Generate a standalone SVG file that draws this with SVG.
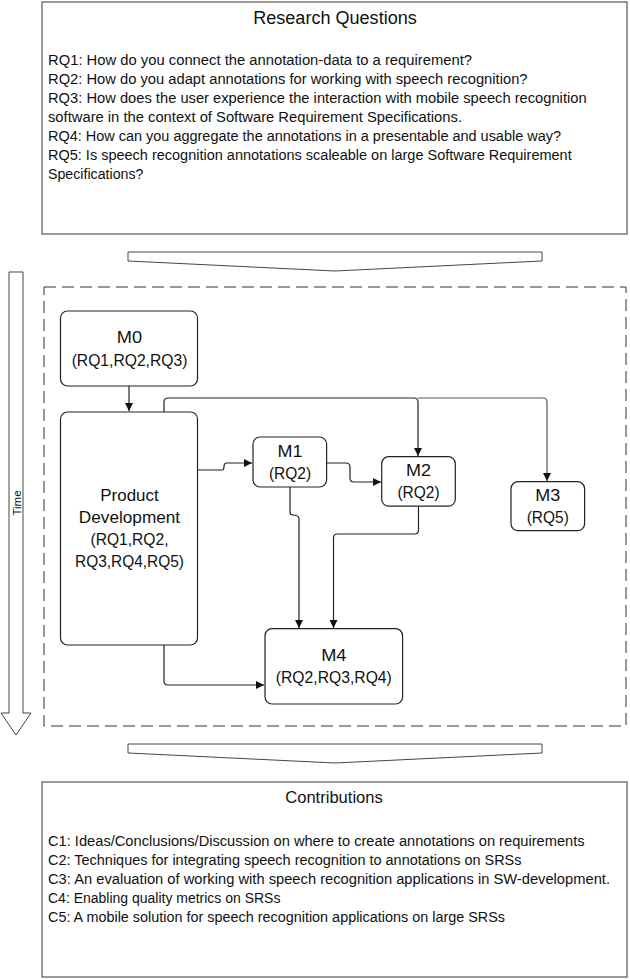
<svg xmlns="http://www.w3.org/2000/svg" width="630" height="979" viewBox="0 0 630 979">
<defs>
<style>
.box{fill:#fff;stroke:#555;stroke-width:1.2}
.node{fill:#fff;stroke:#222;stroke-width:1.2}
.t{font-family:"Liberation Sans",Arial,sans-serif;fill:#111}
.title{font-size:18px;text-anchor:middle}
.body{font-size:14px}
.lbl{font-size:16.5px;text-anchor:middle}
.conn{fill:none;stroke:#222;stroke-width:1.2}
.conn2{fill:none;stroke:#555;stroke-width:1.2}
.shape{fill:#fff;stroke:#444;stroke-width:1}
</style>
<marker id="ah" viewBox="0 0 10 10" refX="10" refY="5" markerWidth="8" markerHeight="8" orient="auto" markerUnits="userSpaceOnUse">
<path d="M0,0 L10,5 L0,10 z" fill="#111"/>
</marker>
</defs>
<rect width="630" height="979" fill="#fff"/>

<g id="research-questions">
<rect class="box" x="42" y="2" width="585" height="232"/>
<text class="t title" x="335" y="24" textLength="163.6" lengthAdjust="spacingAndGlyphs">Research Questions</text>
<text class="t body" x="48" y="65" textLength="424" lengthAdjust="spacingAndGlyphs">RQ1: How do you connect the annotation-data to a requirement?</text>
<text class="t body" x="48" y="84" textLength="479.5" lengthAdjust="spacingAndGlyphs">RQ2: How do you adapt annotations for working with speech recognition?</text>
<text class="t body" x="48" y="103" textLength="538.6" lengthAdjust="spacingAndGlyphs">RQ3: How does the user experience the interaction with mobile speech recognition</text>
<text class="t body" x="48" y="122" textLength="414" lengthAdjust="spacingAndGlyphs">software in the context of Software Requirement Specifications.</text>
<text class="t body" x="48" y="141" textLength="513" lengthAdjust="spacingAndGlyphs">RQ4: How can you aggregate the annotations in a presentable and usable way?</text>
<text class="t body" x="48" y="160" textLength="523.7" lengthAdjust="spacingAndGlyphs">RQ5: Is speech recognition annotations scaleable on large Software Requirement</text>
<text class="t body" x="48" y="179" textLength="95.4" lengthAdjust="spacingAndGlyphs">Specifications?</text>
</g>

<g id="arrow-top">
<path class="shape" d="M128,252 L542,252 L542,261 L335,271 L128,261 Z"/>
</g>

<g id="time-arrow">
<path class="shape" d="M9,272 L23,272 L23,713 L31,713 L16,735 L1,713 L9,713 Z"/>
<text class="t" font-size="11.5" transform="translate(21,503) rotate(-90)" text-anchor="middle">Time</text>
</g>

<g id="process-frame">
<rect x="44" y="287" width="582" height="439" fill="none" stroke="#333" stroke-width="1" stroke-dasharray="12,6"/>
</g>

<g id="connectors">
<path class="conn" d="M129,386 L129,411" marker-end="url(#ah)"/>
<path class="conn" d="M164,412 L164,402 Q164,398 168,398 L414,398 Q418,398 418,402 L418,456" marker-end="url(#ah)"/>
<path class="conn2" d="M418,398 L543,398 Q547,398 547,402 L547,481" marker-end="url(#ah)"/>
<path class="conn" d="M198,470 L222,470 Q224,470 224,466.5 Q224,463 227,463 L252,463" marker-end="url(#ah)"/>
<path class="conn" d="M327,463 L346,463 Q350,463 350,467 L350,478 Q350,482 354,482 L381,482" marker-end="url(#ah)"/>
<path class="conn" d="M290,487 L290,512 Q290,515 293,515 Q299,515 299,519 L299,628" marker-end="url(#ah)"/>
<path class="conn" d="M418.5,506 L418.5,530 Q418.5,534 414.5,534 L337.5,534 Q333.5,534 333.5,538 L333.5,628" marker-end="url(#ah)"/>
<path class="conn" d="M164,645 L164,681 Q164,685 168,685 L264,685" marker-end="url(#ah)"/>
</g>

<g id="M0">
<rect class="node" x="60.5" y="311" width="137" height="75" rx="7"/>
<text class="t lbl" x="129.5" y="343" textLength="25.3" lengthAdjust="spacingAndGlyphs">M0</text>
<text class="t lbl" x="129.5" y="366" textLength="115.7" lengthAdjust="spacingAndGlyphs">(RQ1,RQ2,RQ3)</text>
</g>

<g id="product-development">
<rect class="node" x="60.5" y="412" width="137" height="233" rx="7"/>
<text class="t lbl" x="129.5" y="501" textLength="58.3" lengthAdjust="spacingAndGlyphs">Product</text>
<text class="t lbl" x="129.5" y="523" textLength="101.3" lengthAdjust="spacingAndGlyphs">Development</text>
<text class="t lbl" x="129.5" y="545" textLength="78" lengthAdjust="spacingAndGlyphs">(RQ1,RQ2,</text>
<text class="t lbl" x="129.5" y="567" textLength="108.9" lengthAdjust="spacingAndGlyphs">RQ3,RQ4,RQ5)</text>
</g>

<g id="M1">
<rect class="node" x="253" y="437" width="73.6" height="50" rx="7"/>
<text class="t lbl" x="290" y="457" textLength="25" lengthAdjust="spacingAndGlyphs">M1</text>
<text class="t lbl" x="290" y="479" textLength="42.2" lengthAdjust="spacingAndGlyphs">(RQ2)</text>
</g>

<g id="M2">
<rect class="node" x="381.7" y="456.7" width="73.6" height="49.5" rx="7"/>
<text class="t lbl" x="418.5" y="476" textLength="25" lengthAdjust="spacingAndGlyphs">M2</text>
<text class="t lbl" x="418.5" y="498" textLength="42.2" lengthAdjust="spacingAndGlyphs">(RQ2)</text>
</g>

<g id="M3">
<rect class="node" x="511" y="481.7" width="73.6" height="49" rx="7"/>
<text class="t lbl" x="547.8" y="501" textLength="25" lengthAdjust="spacingAndGlyphs">M3</text>
<text class="t lbl" x="547.8" y="523" textLength="42.2" lengthAdjust="spacingAndGlyphs">(RQ5)</text>
</g>

<g id="M4">
<rect class="node" x="265" y="628.7" width="137.6" height="75.3" rx="7"/>
<text class="t lbl" x="333.8" y="661" textLength="25.3" lengthAdjust="spacingAndGlyphs">M4</text>
<text class="t lbl" x="333.8" y="683" textLength="116" lengthAdjust="spacingAndGlyphs">(RQ2,RQ3,RQ4)</text>
</g>

<g id="arrow-bottom">
<path class="shape" d="M128,744 L542,744 L542,753 L335,763 L128,753 Z"/>
</g>

<g id="contributions">
<rect class="box" x="42" y="782" width="585" height="195"/>
<text class="t" font-size="16" text-anchor="middle" x="334" y="803" textLength="97.5" lengthAdjust="spacingAndGlyphs">Contributions</text>
<text class="t body" x="48" y="846" textLength="536.6" lengthAdjust="spacingAndGlyphs">C1: Ideas/Conclusions/Discussion on where to create annotations on requirements</text>
<text class="t body" x="48" y="865" textLength="473.5" lengthAdjust="spacingAndGlyphs">C2: Techniques for integrating speech recognition to annotations on SRSs</text>
<text class="t body" x="48" y="884" textLength="562" lengthAdjust="spacingAndGlyphs">C3: An evaluation of working with speech recognition applications in SW-development.</text>
<text class="t body" x="48" y="903" textLength="232.4" lengthAdjust="spacingAndGlyphs">C4: Enabling quality metrics on SRSs</text>
<text class="t body" x="48" y="922" textLength="457" lengthAdjust="spacingAndGlyphs">C5: A mobile solution for speech recognition applications on large SRSs</text>
</g>
</svg>
